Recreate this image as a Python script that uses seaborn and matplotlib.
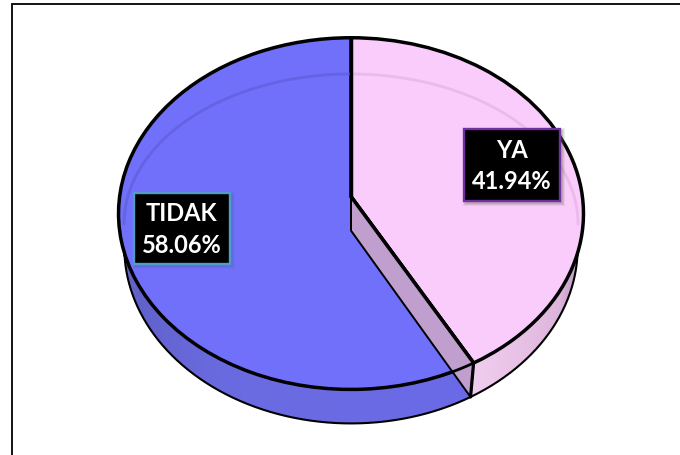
import numpy as np
import matplotlib
matplotlib.use("Agg")
import matplotlib.pyplot as plt
from matplotlib.patches import Rectangle, Polygon
from matplotlib.transforms import Transform
import seaborn as sns

labels = ["YA", "TIDAK"]
shares = [41.94, 58.06]
face_colors = ["#F9CCFB", "#7070FA"]
box_edges = ["#7030A0", "#4F9CC9"]

sns.set_theme(style="white")
plt.rcParams["font.family"] = ["Lato", "DejaVu Sans"]

CX, CY, R, S, K, DEPTH, BOTTOM_SCALE = 351.0, 197.6, 231.4, 174.2, 0.0966, 34.0, 0.975


def project(pts, dy=0.0, xscale=1.0):
    pts = np.asarray(pts, dtype=float)
    w = 1 + K * pts[..., 1]
    return np.stack([CX + xscale * R * pts[..., 0] / w, CY + dy - S * pts[..., 1] / w], axis=-1)


class TiltTransform(Transform):
    input_dims = output_dims = 2

    def transform_non_affine(self, values):
        return project(values)


def ring(a0, a1, n=200):
    t = np.radians(np.linspace(a0, a1, n))
    return np.column_stack([np.cos(t), np.sin(t)])


def mix(a, b, t):
    a, b = np.array(matplotlib.colors.to_rgb(a)), np.array(matplotlib.colors.to_rgb(b))
    return tuple(a + (b - a) * t)


fig = plt.figure(figsize=(6.8, 4.56), dpi=100, facecolor="white")
ax = fig.add_axes([0, 0, 1, 1])
wedges, _ = ax.pie(shares, colors=sns.color_palette(face_colors), startangle=90, counterclock=False,
                   wedgeprops=dict(edgecolor="black", linewidth=2.5, joinstyle="round"))
ax.set_aspect("auto")
ax.set_xlim(0, 680)
ax.set_ylim(456, 0)
ax.axis("off")

tilt = TiltTransform() + ax.transData
for w in wedges:
    w.set_transform(tilt)
    w.set_zorder(5)

ya, tidak = wedges
cut = ya.theta1 % 360  # angle of the YA / TIDAK boundary


# outer side wall, shaded strip by strip
def side(a0, a1, c0, c1, n=90):
    edges = np.linspace(a0, a1, n + 1)
    for i in range(n):
        seg = ring(edges[i] - 0.3, edges[i + 1] + 0.3, 4)
        top = project(seg)
        bot = project(seg, DEPTH, BOTTOM_SCALE)
        ax.add_patch(Polygon(np.vstack([top, bot[::-1]]), closed=True, fc=mix(c0, c1, i / (n - 1)),
                             ec="none", zorder=2))


side(180, 205, "#3F4396", "#5F60C8", 25)
side(205, 240, "#5F60C8", "#6A6AE0", 30)
side(240, cut, "#6A6AE0", "#6A6AE8", 30)
side(cut, 330, "#F0CDEE", "#DDB4DC", 50)
side(330, 360, "#DDB4DC", "#8F7590", 25)

# outline of the base
base = project(ring(174, 366, 300), DEPTH, BOTTOM_SCALE)
ax.plot(base[:, 0], base[:, 1], color="black", lw=1.5, zorder=3)
for a in (174, 366):
    p = ring(a, a, 1)
    line = np.vstack([project(p), project(p, DEPTH, BOTTOM_SCALE)])
    ax.plot(line[:, 0], line[:, 1], color="black", lw=1.5, zorder=3)

# inner cut face of the YA slice
rim = ring(cut, cut, 1)
centre = np.array([[0.0, 0.0]])
cut_face = np.vstack([project(centre), project(rim), project(rim, DEPTH, BOTTOM_SCALE),
                      project(centre, DEPTH, BOTTOM_SCALE)])
ax.add_patch(Polygon(cut_face, closed=True, fc="#C09FCE", ec="black", lw=1.4, zorder=6, joinstyle="round"))
ax.plot(cut_face[:2, 0], cut_face[:2, 1], color="black", lw=2.5, zorder=7)
ax.plot(cut_face[1:3, 0], cut_face[1:3, 1], color="black", lw=2.3, zorder=7)

# rim of the TIDAK slice shows through the cut face
through = project(ring(cut - 8, cut, 20))
ax.plot(through[:, 0], through[:, 1], color="black", lw=2.0, zorder=7)

# faint bevel ring on the top face
t = np.radians(np.linspace(0, 180, 200))
bx, by = 351 + 227 * np.cos(t), 225 - 150 * np.sin(t)
ax.plot(bx[t < np.pi / 2], by[t < np.pi / 2], color="#E9B9E6", lw=2, zorder=5.5, alpha=0.9)
ax.plot(bx[t >= np.pi / 2], by[t >= np.pi / 2], color="#6262E2", lw=2, zorder=5.5, alpha=0.9)

# re-draw the dividing radius on top
top_edge = project(np.array([[0.0, 0.0], [0.0, 1.0]]))
ax.plot(top_edge[:, 0], top_edge[:, 1], color="black", lw=2.5, zorder=7)

# data labels
boxes = [(463.5, 129.5, 96, 72), (133.5, 193.5, 96, 71)]
shadows = ["#5F6A50", "#4A5FC0"]
for lab, val, (x, y, bw, bh), ec, sh in zip(labels, shares, boxes, box_edges, shadows):
    for grow, al in ((6, 0.10), (4, 0.14), (2, 0.20)):
        ax.add_patch(Rectangle((x + 2 - grow / 2, y + 2 - grow / 2), bw + grow, bh + grow, fc=sh, ec="none",
                               alpha=al, zorder=8))
    ax.add_patch(Rectangle((x, y), bw, bh, fc="black", ec=ec, lw=1.7, zorder=9))
    ax.text(x + bw / 2, y + bh / 2 + 0.5, f"{lab}\n{val:.2f}%", color="white", fontweight="bold", fontsize=17,
            ha="center", va="center", linespacing=1.45, zorder=10)

# picture frame
ax.plot([11.5, 11.5, 680], [456, 4.5, 4.5], color="black", lw=1.3, zorder=1, solid_joinstyle="miter")

fig.savefig("out.png", dpi=100, facecolor="white")
